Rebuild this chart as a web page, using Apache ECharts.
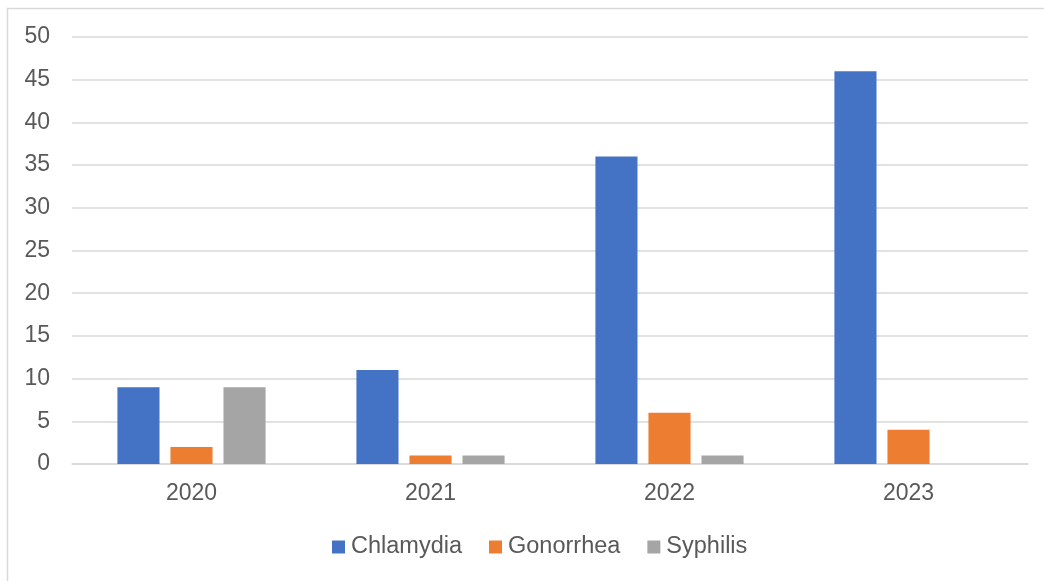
<!DOCTYPE html>
<html>
<head>
<meta charset="utf-8">
<script src="https://cdn.jsdelivr.net/npm/echarts@6/dist/echarts.min.js"></script>
<style>
  html, body { margin: 0; padding: 0; background: #fff; }
  #chart { width: 1044px; height: 581px; }
</style>
</head>
<body>
<div id="chart"></div>
<script>
const years = ['2020', '2021', '2022', '2023']
const chlamydia = [9, 11, 36, 46]
const gonorrhea = [2, 1, 6, 4]
const syphilis = [9, 1, 1, 0]

const chart = echarts.init(document.getElementById('chart'))
const font = 'Liberation Sans, Arial, sans-serif'

const barSeries = (name, data, color) => ({
  name: name,
  type: 'bar',
  data: data,
  barGap: '26%',
  barCategoryGap: '38%',
  itemStyle: { color: color },
})

chart.setOption({
  animation: false,
  textStyle: { fontFamily: font },
  graphic: [
    {
      type: 'rect',
      shape: { x: 7.5, y: 8.5, width: 1100, height: 700 },
      style: { fill: 'none', stroke: '#d9d9d9', lineWidth: 1.5 },
      silent: true,
    },
  ],
  grid: { left: 72, right: 16, top: 37, bottom: 117 },
  legend: {
    top: 530,
    left: 327,
    itemWidth: 13,
    itemHeight: 13,
    itemGap: 27,
    icon: 'rect',
    textStyle: { fontSize: 23.5, color: '#595959', fontFamily: font, padding: [0, 0, 0, 1] },
    data: ['Chlamydia', 'Gonorrhea', 'Syphilis'],
  },
  xAxis: {
    type: 'category',
    data: years,
    axisTick: { show: false },
    axisLine: { lineStyle: { color: '#d9d9d9', width: 1.5 } },
    axisLabel: { fontSize: 23, color: '#595959', margin: 18 },
  },
  yAxis: {
    type: 'value',
    min: 0,
    max: 50,
    interval: 5,
    axisLabel: { fontSize: 23, color: '#595959', margin: 22 },
    splitLine: { lineStyle: { color: '#d9d9d9', width: 1.5 } },
  },
  series: [
    barSeries('Chlamydia', chlamydia, '#4472c4'),
    barSeries('Gonorrhea', gonorrhea, '#ed7d31'),
    barSeries('Syphilis', syphilis, '#a5a5a5'),
  ],
})
</script>
</body>
</html>
